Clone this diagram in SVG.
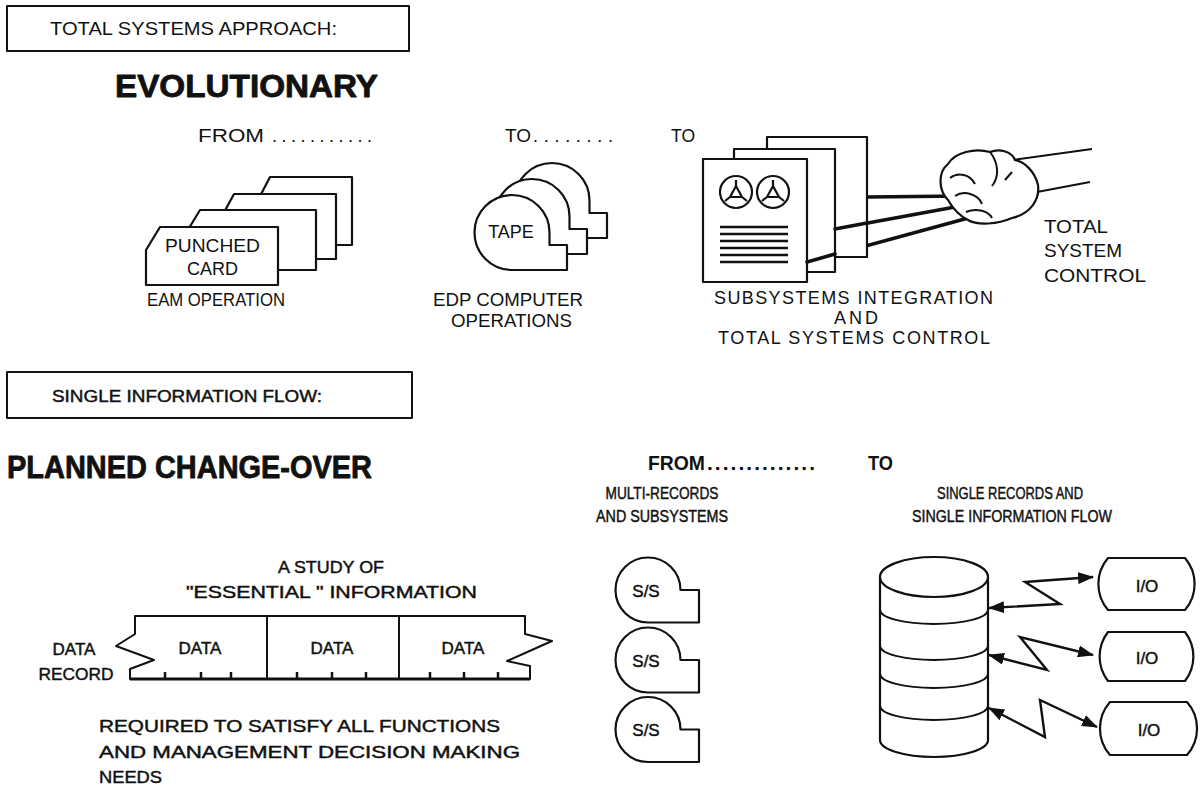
<svg xmlns="http://www.w3.org/2000/svg" width="1202" height="785" viewBox="0 0 1202 785">
  <defs>
    <marker id="ah" viewBox="0 0 16 12" refX="15" refY="6" markerWidth="16" markerHeight="12" markerUnits="userSpaceOnUse" orient="auto-start-reverse">
      <path d="M0 0 L16 6 L0 12 Z" fill="#111"/>
    </marker>
    <!-- reel hub used on the document icon -->
    <g id="hub">
      <circle r="16" fill="none" stroke="#111" stroke-width="2.2"/>
      <path d="M0 -6 L-6 5 L6 5 Z M0 -6 L0 -12 M-6 5 L-11 9 M6 5 L11 9" fill="none" stroke="#111" stroke-width="2.2" stroke-linejoin="round"/>
    </g>
  </defs>
  <style>
    .t{font-family:"Liberation Sans",Arial,sans-serif;fill:#111;font-size:18px}
    .w{font-family:"Liberation Sans",Arial,sans-serif;fill:#111;font-size:17px;stroke:#111;stroke-width:0.45}
    .b{font-family:"Liberation Sans",Arial,sans-serif;fill:#111;font-size:21px;font-weight:bold}
    .hd{font-family:"Liberation Sans",Arial,sans-serif;fill:#111;font-size:31px;font-weight:bold;stroke:#111;stroke-width:0.8;stroke-linejoin:round}
    .ln{fill:none;stroke:#111;stroke-width:2;stroke-linejoin:round}
    .sh{fill:#fff;stroke:#111;stroke-width:2.2;stroke-linejoin:round}
    .thick{fill:none;stroke:#111;stroke-width:3.5;stroke-linecap:round}
    .m{text-anchor:middle}
  </style>
  <rect width="1202" height="785" fill="#fff"/>

  <!-- ===== Total systems approach ===== -->
  <g id="title-total">
    <rect x="7" y="6" width="402" height="45" class="ln"/>
    <text class="t" x="50" y="35" font-size="18" textLength="287" lengthAdjust="spacingAndGlyphs">TOTAL SYSTEMS APPROACH:</text>
  </g>
  <text class="hd" x="115" y="97" textLength="263" lengthAdjust="spacingAndGlyphs">EVOLUTIONARY</text>

  <g id="progression">
    <text class="t" x="198" y="142" font-size="20" textLength="66" lengthAdjust="spacingAndGlyphs">FROM</text>
    <text class="t" x="272" y="142" font-size="19" textLength="100">...........</text>
    <text class="t" x="505" y="142" font-size="20" textLength="26" lengthAdjust="spacingAndGlyphs">TO</text>
    <text class="t" x="533" y="142" font-size="19" textLength="80">........</text>
    <text class="t" x="671" y="142" font-size="20" textLength="24" lengthAdjust="spacingAndGlyphs">TO</text>
  </g>

  <!-- punched card deck -->
  <g id="punched-cards">
    <path class="sh" d="M258 200 L270 177 L352 177 L352 245 L258 245 Z"/>
    <path class="sh" d="M222 216 L234 194 L336 194 L336 259 L222 259 Z"/>
    <path class="sh" d="M186 233 L200 210 L316 210 L316 270 L186 270 Z"/>
    <path class="sh" d="M146 250 L160 227 L278 227 L278 285 L146 285 Z"/>
    <text class="t" x="165" y="252" textLength="95" lengthAdjust="spacingAndGlyphs">PUNCHED</text>
    <text class="t" x="187" y="275" textLength="51" lengthAdjust="spacingAndGlyphs">CARD</text>
    <text class="t" x="147" y="306" textLength="138" lengthAdjust="spacingAndGlyphs">EAM OPERATION</text>
  </g>

  <!-- tape reels -->
  <g id="tape-reels">
    <path class="sh" d="M552 238 A37.5 37.5 0 1 1 589.5 200.5 L589.5 213 L607 213 L607 238 Z"/>
    <path class="sh" d="M532 254 A37.5 37.5 0 1 1 569.5 216.5 L569.5 229 L587 229 L587 254 Z"/>
    <path class="sh" d="M512 270 A37.5 37.5 0 1 1 549.5 232.5 L549.5 245 L567 245 L567 270 Z"/>
    <text class="t m" x="511" y="238" font-size="18.5">TAPE</text>
    <text class="t" x="433" y="306" font-size="18.5" textLength="150" lengthAdjust="spacingAndGlyphs">EDP COMPUTER</text>
    <text class="t" x="451" y="327" font-size="18.5" textLength="121" lengthAdjust="spacingAndGlyphs">OPERATIONS</text>
  </g>

  <!-- control cables -->
  <g id="cables">
    <line class="thick" x1="867" y1="197" x2="962" y2="196"/>
    <line class="thick" x1="835" y1="229" x2="966" y2="205"/>
    <line class="thick" x1="807" y1="262" x2="972" y2="217"/>
  </g>

  <!-- subsystem documents -->
  <g id="subsystems">
    <rect class="sh" x="767" y="137" width="100" height="120"/>
    <rect class="sh" x="734" y="149" width="101" height="123"/>
    <rect class="sh" x="703" y="159" width="104" height="123"/>
    <use href="#hub" x="736" y="192"/>
    <use href="#hub" x="773" y="192"/>
    <path d="M720 227 H788 M720 234 H788 M720 241 H788 M720 248 H788 M720 255 H788 M720 262 H788" stroke="#111" stroke-width="2.5"/>
    <line class="thick" x1="807" y1="262" x2="835" y2="254"/>
    <line class="thick" x1="835" y1="229" x2="867" y2="223"/>
    <text class="t" x="714" y="304" font-size="17.5" textLength="279">SUBSYSTEMS INTEGRATION</text>
    <text class="t" x="834" y="324" font-size="17.5" textLength="44">AND</text>
    <text class="t" x="718" y="344" font-size="17.5" textLength="272">TOTAL SYSTEMS CONTROL</text>
  </g>

  <!-- hand gripping the cables -->
  <g id="hand">
    <path class="ln" d="M1013 160 L1092 149 M1037 192 L1090 182"/>
    <path class="sh" d="M948 200 C938 190 938 172 948 164 C955 152 975 148 990 152 C1000 148 1012 152 1015 160 C1025 162 1035 172 1038 185 C1040 200 1030 214 1012 218 C998 224 978 226 968 220 C958 215 952 207 948 200 Z"/>
    <path class="ln" d="M950 178 C958 172 970 174 975 184 M955 196 C964 190 978 194 982 204 M966 212 C975 208 988 210 992 218 M990 152 C998 162 1000 176 992 186 M1005 180 L1012 172"/>
    <text class="t" x="1044" y="233" font-size="20" textLength="64" lengthAdjust="spacingAndGlyphs">TOTAL</text>
    <text class="t" x="1044" y="257" font-size="20" textLength="78" lengthAdjust="spacingAndGlyphs">SYSTEM</text>
    <text class="t" x="1044" y="282" font-size="20" textLength="102" lengthAdjust="spacingAndGlyphs">CONTROL</text>
  </g>

  <!-- ===== Single information flow ===== -->
  <g id="title-single">
    <rect x="7" y="372" width="405" height="46" class="ln"/>
    <text class="w" x="52" y="402" font-size="18" textLength="270" lengthAdjust="spacingAndGlyphs">SINGLE INFORMATION FLOW:</text>
  </g>
  <text class="hd" x="7" y="478" textLength="365" lengthAdjust="spacingAndGlyphs">PLANNED CHANGE-OVER</text>

  <g id="from-to">
    <text class="b" x="648" y="470" textLength="57" lengthAdjust="spacingAndGlyphs">FROM</text>
    <text class="b" x="707" y="470" textLength="108">..............</text>
    <text class="b" x="868" y="470" textLength="25" lengthAdjust="spacingAndGlyphs">TO</text>
    <text class="w m" x="662" y="499" textLength="113" lengthAdjust="spacingAndGlyphs">MULTI-RECORDS</text>
    <text class="w m" x="662" y="522" textLength="132" lengthAdjust="spacingAndGlyphs">AND SUBSYSTEMS</text>
    <text class="w m" x="1010" y="499" textLength="146" lengthAdjust="spacingAndGlyphs">SINGLE RECORDS AND</text>
    <text class="w m" x="1012" y="522" textLength="200" lengthAdjust="spacingAndGlyphs">SINGLE INFORMATION FLOW</text>
  </g>

  <!-- data record -->
  <g id="data-record">
    <text class="w m" x="331" y="573" font-size="18" textLength="106" lengthAdjust="spacingAndGlyphs">A STUDY OF</text>
    <text class="w" x="186" y="598" font-size="18" textLength="291" lengthAdjust="spacingAndGlyphs">"ESSENTIAL " INFORMATION</text>
    <path class="ln" d="M135 616 L525 616 L525 634 L552 641 L507 661 L530 666 L530 679 L130 679 L130 669 L154 660 L116 646 L135 634 Z"/>
    <line x1="130" y1="679" x2="530" y2="679" stroke="#111" stroke-width="3"/>
    <path class="ln" d="M267 616 V679 M399 616 V679"/>
    <path d="M165 672 V679 M201 672 V679 M231 672 V679 M297 672 V679 M332 672 V679 M366 672 V679 M430 672 V679 M464 672 V679 M498 672 V679" stroke="#111" stroke-width="2.5"/>
    <text class="w m" x="200" y="654" font-size="19">DATA</text>
    <text class="w m" x="332" y="654" font-size="19">DATA</text>
    <text class="w m" x="463" y="654" font-size="19">DATA</text>
    <text class="w m" x="74" y="655" font-size="19">DATA</text>
    <text class="w m" x="76" y="680" font-size="19" textLength="75" lengthAdjust="spacingAndGlyphs">RECORD</text>
    <text class="w" x="99" y="732" font-size="19" textLength="401" lengthAdjust="spacingAndGlyphs">REQUIRED TO SATISFY ALL FUNCTIONS</text>
    <text class="w" x="99" y="758" font-size="19" textLength="421" lengthAdjust="spacingAndGlyphs">AND MANAGEMENT DECISION MAKING</text>
    <text class="w" x="99" y="783" font-size="19" textLength="63" lengthAdjust="spacingAndGlyphs">NEEDS</text>
  </g>

  <!-- separate subsystem files -->
  <g id="ss-1">
    <path class="sh" d="M648 622.5 A32.5 32.5 0 1 1 680.5 590 L699 590 L699 622.5 Z"/>
    <text class="w m" x="646" y="597" font-size="18">S/S</text>
  </g>
  <g id="ss-2">
    <path class="sh" d="M648 692.5 A32.5 32.5 0 1 1 680.5 660 L699 660 L699 692.5 Z"/>
    <text class="w m" x="646" y="667" font-size="18">S/S</text>
  </g>
  <g id="ss-3">
    <path class="sh" d="M648 762 A32.5 32.5 0 1 1 680.5 729.5 L699 729.5 L699 762 Z"/>
    <text class="w m" x="646" y="736" font-size="18">S/S</text>
  </g>

  <!-- single data base -->
  <g id="database">
    <path class="sh" d="M880 577 V740 A54 17 0 0 0 988 740 V577"/>
    <ellipse cx="934" cy="577" rx="54" ry="20" class="sh"/>
    <path class="ln" d="M880 610 A54 14 0 0 0 988 610 M880 646 A54 14 0 0 0 988 646 M880 674 A54 14 0 0 0 988 674 M880 706 A54 14 0 0 0 988 706"/>
  </g>

  <g id="io-1">
    <path class="sh" d="M1108 558 H1185 A40 40 0 0 1 1185 610 H1108 A40 40 0 0 1 1108 558 Z"/>
    <text class="w m" x="1147" y="592" font-size="19">I/O</text>
  </g>
  <g id="io-2">
    <path class="sh" d="M1108 632 H1185 A40 40 0 0 1 1185 681 H1108 A40 40 0 0 1 1108 632 Z"/>
    <text class="w m" x="1147" y="664" font-size="19">I/O</text>
  </g>
  <g id="io-3">
    <path class="sh" d="M1110 702 H1187 A40 40 0 0 1 1187 755 H1110 A40 40 0 0 1 1110 702 Z"/>
    <text class="w m" x="1149" y="736" font-size="19">I/O</text>
  </g>

  <!-- two-way links between data base and terminals -->
  <g id="connectors" fill="none" stroke="#111" stroke-width="2.4" stroke-linejoin="miter">
    <polyline points="989,608 1060,604 1025,582 1093,577" marker-start="url(#ah)" marker-end="url(#ah)"/>
    <polyline points="989,655 1047,670 1020,637 1093,655" marker-start="url(#ah)" marker-end="url(#ah)"/>
    <polyline points="989,708 1045,737 1040,700 1097,727" marker-start="url(#ah)" marker-end="url(#ah)"/>
  </g>
</svg>
